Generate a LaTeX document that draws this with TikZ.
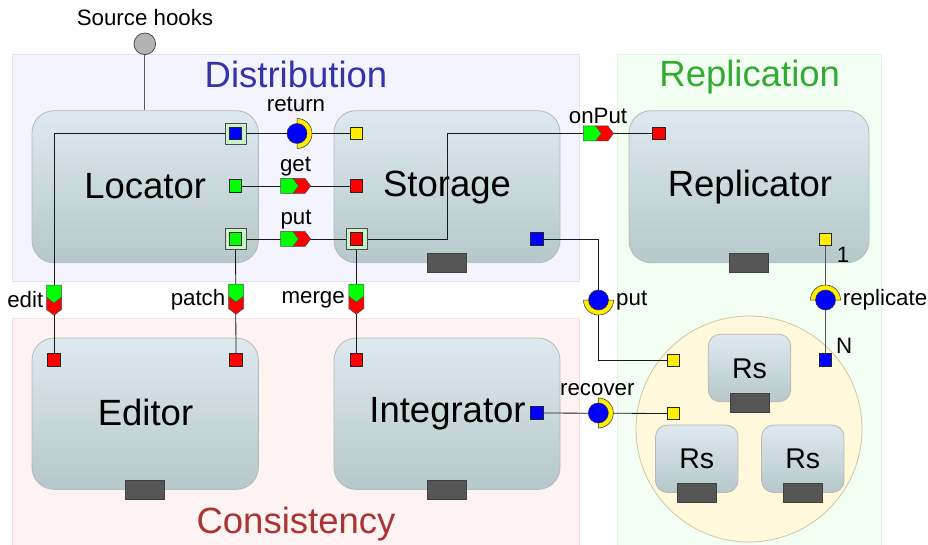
\documentclass[tikz,border=0pt]{standalone}
\usepackage{fontspec}
\setmainfont{Liberation Sans}
\definecolor{regB}{HTML}{F4F4FE}\definecolor{regBd}{HTML}{E0E0F8}
\definecolor{regR}{HTML}{FEF3F3}\definecolor{regRd}{HTML}{FAE0E0}
\definecolor{regG}{HTML}{F3FEF3}\definecolor{regGd}{HTML}{E0F8E0}
\definecolor{tB}{HTML}{3333AA}\definecolor{tG}{HTML}{33AA33}\definecolor{tR}{HTML}{AA3333}
\definecolor{ctop}{HTML}{DEE9EF}\definecolor{cbot}{HTML}{B6C8C9}\definecolor{compb}{HTML}{B4B9BA}
\definecolor{darkg}{HTML}{565656}
\definecolor{gr}{HTML}{00FF00}\definecolor{rd}{HTML}{FF0000}\definecolor{bl}{HTML}{0000FF}
\definecolor{yl}{HTML}{FFEE00}\definecolor{framec}{HTML}{C8F3C8}
\definecolor{rsfill}{HTML}{FFF8DA}\definecolor{rsb}{HTML}{CFC6A6}
\definecolor{hook}{HTML}{B3B3B3}
\newcommand\bigfont{\fontsize{36.5}{42}\selectfont}
\newcommand\smallfont{\fontsize{22.3}{26}\selectfont}
\newcommand\rsfont{\fontsize{28.5}{32}\selectfont}
\tikzset{
  region/.style={inner sep=0pt, line width=0.8pt},
  comp/.style={draw=compb, line width=0.8pt, rounded corners=22pt, top color=ctop, bottom color=cbot, inner sep=0pt},
  rsbox/.style={comp, rounded corners=12pt, minimum width=82.5pt, minimum height=67.5pt},
  darkbox/.style={draw=black!75, fill=darkg, minimum width=39pt, minimum height=19pt, inner sep=0pt, line width=0.6pt},
  port/.style={draw=black!85, line width=0.6pt, minimum size=12.5pt, inner sep=0pt},
  pframe/.style={draw=black!70, line width=0.6pt, fill=framec, minimum size=21pt, inner sep=0pt},
  wire/.style={line width=0.8pt, black!90},
  gwire/.style={line width=0.8pt, black!65},
  lbl/.style={font=\smallfont, inner sep=0pt, anchor=base},
  biglbl/.style={font=\bigfont, inner sep=0pt, anchor=base},
  title/.style={font=\bigfont, inner sep=0pt, anchor=base},
  hconn/.pic={
    \filldraw[fill=gr, draw=black!70, line width=0.5pt] (-15,-7.5) -- (-2.5,-7.5) -- (3.2,0) -- (-2.5,7.5) -- (-15,7.5) -- cycle;
    \filldraw[fill=rd, draw=black!70, line width=0.5pt] (-2.5,-7.5) -- (9.5,-7.5) -- (15.2,0) -- (9.5,7.5) -- (-2.5,7.5) -- (3.2,0) -- cycle;
  },
  vconn/.pic={
    \filldraw[fill=gr, draw=black!70, line width=0.5pt] (-7.5,-15) -- (-7.5,-2.5) -- (0,3.2) -- (7.5,-2.5) -- (7.5,-15) -- cycle;
    \filldraw[fill=rd, draw=black!70, line width=0.5pt] (-7.5,-2.5) -- (-7.5,9.5) -- (0,15.2) -- (7.5,9.5) -- (7.5,-2.5) -- (0,3.2) -- cycle;
  },
  pics/ringsym/.style 2 args={code={
    \filldraw[fill=yl, draw=black!80, line width=0.5pt]
      plot[domain=#1:#2, samples=31] ({15*cos(\x)},{15*sin(\x)}) --
      plot[domain=#2:#1, samples=31] ({9*cos(\x)},{9*sin(\x)}) -- cycle;
    \filldraw[fill=bl, draw=black!80, line width=0.5pt] (0,0) circle[radius=10];
  }}
}
\begin{document}
\begin{tikzpicture}[x=1pt,y=-1pt]
\useasboundingbox (0,0) rectangle (928,545);
\fill[white] (0,0) rectangle (928,545);

% regions
\node[region, fill=regB, draw=regBd, minimum width=567pt, minimum height=227pt] (distr) at (295.8,167.5) {};
\node[region, fill=regR, draw=regRd, minimum width=567pt, minimum height=228pt] (cons) at (295.8,432.3) {};
\node[region, fill=regG, draw=regGd, minimum width=264.4pt, minimum height=492pt] (repl) at (749.5,300) {};
\node[title, text=tB] (tdistr) at (296,87.5) {Distribution};
\node[title, text=tG] (trepl) at (749.7,86.7) {Replication};
\node[title, text=tR] (tcons) at (296,533) {Consistency};

% Rs group circle
\node[circle, fill=rsfill, draw=rsb, line width=0.8pt, minimum size=226pt, inner sep=0pt] (rsgroup) at (749,429) {};

% components
\node[comp, minimum width=226.3pt, minimum height=152pt] (locator) at (145.2,186.7) {};
\node[comp, minimum width=226pt, minimum height=152pt] (storage) at (447,186.7) {};
\node[comp, minimum width=240pt, minimum height=152pt] (replicator) at (749,186.7) {};
\node[comp, minimum width=226.3pt, minimum height=151.3pt] (editor) at (145.2,413.7) {};
\node[comp, minimum width=226pt, minimum height=151.3pt] (integrator) at (447,413.7) {};
\node[rsbox] (rs1) at (749.5,368) {};
\node[rsbox] (rs2) at (696.7,458.8) {};
\node[rsbox] (rs3) at (802.8,458.8) {};

\node[darkbox] (dstorage) at (447.2,262.8) {};
\node[darkbox] (dreplicator) at (749,263) {};
\node[darkbox] (deditor) at (144.8,489.3) {};
\node[darkbox] (dintegrator) at (447,489.3) {};
\node[darkbox] (drs1) at (749.3,402.5) {};
\node[darkbox] (drs2) at (696.7,492.7) {};
\node[darkbox] (drs3) at (802.7,492.7) {};

\node[biglbl] (llocator) at (145.2,198.5) {Locator};
\node[biglbl] (lstorage) at (447,196.5) {Storage};
\node[biglbl] (lreplicator) at (750,196.5) {Replicator};
\node[biglbl] (leditor) at (145.5,425.5) {Editor};
\node[biglbl] (lintegrator) at (447.5,422.5) {Integrator};
\node[font=\rsfont, inner sep=0pt, anchor=base] (lrs1) at (749.5,378.3) {Rs};
\node[font=\rsfont, inner sep=0pt, anchor=base] (lrs2) at (696.7,468.3) {Rs};
\node[font=\rsfont, inner sep=0pt, anchor=base] (lrs3) at (802.8,468.3) {Rs};

% source hooks
\node[circle, fill=hook, draw=black!75, line width=0.7pt, minimum size=21.6pt, inner sep=0pt] (hooks) at (144.8,43.8) {};
\node[lbl] (lhooks) at (145,26) {Source hooks};
\draw[gwire] (hooks) -- (locator.north -| hooks);

% connector positions
\coordinate (cret) at (297,133.5);
\coordinate (cget) at (295.5,186);
\coordinate (cput) at (295.5,239);
\coordinate (conput) at (598.3,133.5);
\coordinate (cedit) at (54,300);
\coordinate (cpatch) at (236,299);
\coordinate (cmerge) at (356.3,299);
\coordinate (cput2) at (598.5,300);
\coordinate (crecover) at (598.3,413);
\coordinate (creplicate) at (825.5,300);
\coordinate (sbend) at (447,239);

% port positions
\coordinate (lret) at (235.5,133.5);
\coordinate (lget) at (235.5,186);
\coordinate (lput) at (235.5,239);
\coordinate (sret) at (356.3,133.5);
\coordinate (sget) at (356.3,186);
\coordinate (sput) at (356.3,239);
\coordinate (sblue) at (537,239);
\coordinate (ronput) at (659,133.5);
\coordinate (ryel) at (825.5,239.5);
\coordinate (eedit) at (54,360);
\coordinate (epatch) at (236,360);
\coordinate (imerge) at (356.3,360);
\coordinate (iblue) at (537,413);
\coordinate (rsput) at (673.5,360.5);
\coordinate (rsrec) at (673.5,413.5);
\coordinate (rsrep) at (825.5,360);

% wires
\draw[wire] (lret) -- (sret);
\draw[wire] (lret) -| (eedit);
\draw[wire] (lget) -- (sget);
\draw[wire] (lput) -- (sput);
\draw[wire] (lput) -- (epatch);
\draw[wire] (sput) -- (imerge);
\draw[wire] (sput) -- (sbend) |- (ronput);
\draw[wire] (sblue) -| (cput2) |- (rsput);
\draw[wire] (iblue) -- (rsrec);
\draw[gwire] (ryel) -- (rsrep);

% connector symbols
\pic at (cret) {ringsym={-90}{90}};
\pic at (crecover) {ringsym={-90}{90}};
\pic at (cput2) {ringsym={0}{180}};
\pic at (creplicate) {ringsym={180}{360}};
\pic at (cget) {hconn};
\pic at (cput) {hconn};
\pic at (conput) {hconn};
\pic at (cedit) {vconn};
\pic at (cpatch) {vconn};
\pic at (cmerge) {vconn};

% ports
\node[pframe] (flret) at (lret) {};
\node[pframe] (flput) at (lput) {};
\node[pframe] (fsput) at (sput) {};
\node[port, fill=bl] (plret) at (lret) {};
\node[port, fill=gr] (plget) at (lget) {};
\node[port, fill=gr] (plput) at (lput) {};
\node[port, fill=yl] (psret) at (sret) {};
\node[port, fill=rd] (psget) at (sget) {};
\node[port, fill=rd] (psput) at (sput) {};
\node[port, fill=bl] (psblue) at (sblue) {};
\node[port, fill=rd] (pronput) at (ronput) {};
\node[port, fill=yl] (pryel) at (ryel) {};
\node[port, fill=rd] (peedit) at (eedit) {};
\node[port, fill=rd] (pepatch) at (epatch) {};
\node[port, fill=rd] (pimerge) at (imerge) {};
\node[port, fill=bl] (piblue) at (iblue) {};
\node[port, fill=yl] (prsput) at (rsput) {};
\node[port, fill=yl] (prsrec) at (rsrec) {};
\node[port, fill=bl] (prsrep) at (rsrep) {};

% labels
\node[lbl] (lreturn) at (296,111.7) {return};
\node[lbl] (lgetl) at (295.5,171.7) {get};
\node[lbl] (lputl) at (296,225) {put};
\node[lbl] (lonput) at (598,123.3) {onPut};
\node[lbl, anchor=base east] (ledit) at (43.5,307) {edit};
\node[lbl, anchor=base east] (lpatch) at (225.5,305.7) {patch};
\node[lbl, anchor=base east] (lmerge) at (345,303.5) {merge};
\node[lbl, anchor=base west] (lput2) at (616,305) {put};
\node[lbl] (lrecover) at (597.3,395) {recover};
\node[lbl, anchor=base west] (lreplicate) at (842.7,305) {replicate};
\node[lbl, anchor=base west] (lone) at (836.7,262) {1};
\node[lbl, anchor=base west] (lN) at (836,353) {N};
\end{tikzpicture}
\end{document}
